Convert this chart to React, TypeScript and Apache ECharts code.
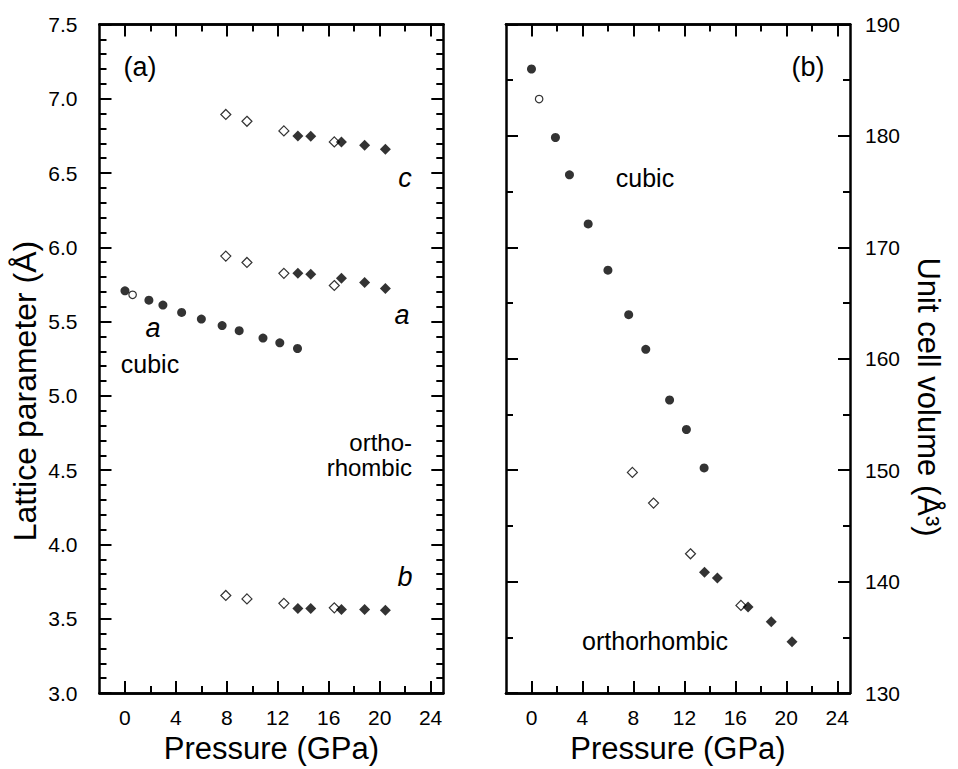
import React, { useEffect, useRef } from "react";
import * as echarts from "echarts";

// ---- data (pressure in GPa) ----
const cubicP = [0, 1.88, 2.98, 4.45, 6.0, 7.63, 8.97, 10.84, 12.16, 13.55];
const cubicA = [5.707, 5.644, 5.611, 5.562, 5.517, 5.473, 5.439, 5.389, 5.357, 5.319];
const cubicV = [186.0, 179.85, 176.5, 172.1, 167.95, 163.95, 160.85, 156.3, 153.65, 150.2];

const cubicOpenP = [0.6];
const cubicOpenA = [5.68];
const cubicOpenV = [183.3];

const orthoOpenP = [7.92, 9.58, 12.48, 16.44];
const orthoOpenA = [5.941, 5.898, 5.825, 5.743];
const orthoOpenB = [3.657, 3.634, 3.604, 3.574];
const orthoOpenC = [6.894, 6.848, 6.783, 6.709];
const orthoOpenV = [149.8, 147.05, 142.5, 137.87];

const orthoP = [13.58, 14.59, 17.0, 18.82, 20.45];
const orthoA = [5.825, 5.818, 5.791, 5.763, 5.723];
const orthoB = [3.57, 3.57, 3.563, 3.563, 3.557];
const orthoC = [6.749, 6.747, 6.709, 6.687, 6.66];
const orthoV = [140.84, 140.33, 137.72, 136.41, 134.6];

const pMajorTicks = [0, 4, 8, 12, 16, 20, 24];
const pMinorTicks = [2, 6, 10, 14, 18, 22];

const FONT = '"Liberation Sans", Arial, Helvetica, sans-serif';

const pairs = (xs: number[], ys: number[]) => xs.map((x, i) => [x, ys[i]]);

const lineStyle = { color: "#000", width: 2.5 };
const tickStyle = { color: "#000", width: 2 };

function xAxesFor(gridIndex: number) {
  const base = {
    type: "value" as const,
    gridIndex,
    min: -2,
    max: 25,
    splitLine: { show: false },
    axisLine: { show: true, onZero: false, lineStyle },
  };
  return [
    {
      ...base,
      position: "bottom",
      axisTick: { show: true, inside: true, length: 12, lineStyle: tickStyle, customValues: pMajorTicks },
      axisLabel: {
        show: true,
        customValues: pMajorTicks,
        margin: 14,
        fontSize: 21,
        color: "#000",
        fontFamily: FONT,
      },
      name: "Pressure (GPa)",
      nameLocation: "middle",
      nameGap: 39,
      nameTextStyle: { fontSize: 31, color: "#000", fontFamily: FONT },
    },
    {
      ...base,
      position: "bottom",
      axisTick: { show: true, inside: true, length: 7, lineStyle: tickStyle, customValues: pMinorTicks },
      axisLabel: { show: false },
    },
    {
      ...base,
      position: "top",
      axisTick: { show: true, inside: true, length: 12, lineStyle: tickStyle, customValues: pMajorTicks },
      axisLabel: { show: false },
    },
    {
      ...base,
      position: "top",
      axisTick: { show: true, inside: true, length: 7, lineStyle: tickStyle, customValues: pMinorTicks },
      axisLabel: { show: false },
    },
  ];
}

function yAxisFor(
  gridIndex: number,
  position: "left" | "right",
  min: number,
  max: number,
  interval: number,
  split: number,
  showLabel: boolean,
  margin: number,
  decimals: number
) {
  return {
    type: "value",
    gridIndex,
    position,
    min,
    max,
    interval,
    splitLine: { show: false },
    axisLine: { show: true, onZero: false, lineStyle },
    axisTick: { show: true, inside: true, length: 12, lineStyle: tickStyle },
    minorTick: { show: true, splitNumber: split, length: 7, lineStyle: tickStyle },
    minorSplitLine: { show: false },
    axisLabel: {
      show: showLabel,
      margin,
      fontSize: 21,
      color: "#000",
      fontFamily: FONT,
      formatter: (v: number) => v.toFixed(decimals),
    },
  };
}

const filledCircle = { symbol: "circle", symbolSize: 9, itemStyle: { color: "#000" } };
const openCircle = {
  symbol: "circle",
  symbolSize: 7.5,
  itemStyle: { color: "#fff", borderColor: "#000", borderWidth: 1.2 },
};
const filledDiamond = { symbol: "diamond", symbolSize: 11, itemStyle: { color: "#000" } };
const openDiamond = {
  symbol: "diamond",
  symbolSize: 10,
  itemStyle: { color: "#fff", borderColor: "#000", borderWidth: 1.2 },
};

function scatter(xi: number, yi: number, data: number[][], style: any) {
  return {
    type: "scatter",
    xAxisIndex: xi,
    yAxisIndex: yi,
    data,
    ...style,
    emphasis: { disabled: true },
    silent: true,
  };
}

function label(x: number, y: number, text: string, size: number, italic = false, align = "center", lineHeight?: number) {
  return {
    type: "text",
    x,
    y,
    silent: true,
    style: {
      text,
      fontSize: size,
      fontFamily: FONT,
      fontStyle: italic ? "italic" : "normal",
      fill: "#000",
      align,
      verticalAlign: "middle",
      ...(lineHeight ? { lineHeight } : {}),
    },
  };
}

export default function App() {
  const ref = useRef<HTMLDivElement>(null);

  useEffect(() => {
    if (!ref.current) return;
    const chart = echarts.init(ref.current, undefined, { renderer: "svg" });

    const option: any = {
      animation: false,
      backgroundColor: "#fff",
      grid: [
        { left: 99.5, top: 24.4, width: 343.8, height: 673.2, containLabel: false },
        { left: 506, top: 24.4, width: 344, height: 673.2, containLabel: false },
      ],
      xAxis: [...xAxesFor(0), ...xAxesFor(1)],
      yAxis: [
        yAxisFor(0, "left", 3, 7.5, 0.5, 5, true, 22, 1),
        yAxisFor(0, "right", 3, 7.5, 0.5, 5, false, 10, 1),
        yAxisFor(1, "left", 130, 190, 10, 2, false, 10, 0),
        yAxisFor(1, "right", 130, 190, 10, 2, true, 15, 0),
      ],
      series: [
        // panel (a)
        scatter(0, 0, pairs(cubicP, cubicA), filledCircle),
        scatter(0, 0, pairs(cubicOpenP, cubicOpenA), openCircle),
        scatter(0, 0, pairs(orthoOpenP, orthoOpenA), openDiamond),
        scatter(0, 0, pairs(orthoOpenP, orthoOpenB), openDiamond),
        scatter(0, 0, pairs(orthoOpenP, orthoOpenC), openDiamond),
        scatter(0, 0, pairs(orthoP, orthoA), filledDiamond),
        scatter(0, 0, pairs(orthoP, orthoB), filledDiamond),
        scatter(0, 0, pairs(orthoP, orthoC), filledDiamond),
        // panel (b)
        scatter(4, 2, pairs(cubicP, cubicV), filledCircle),
        scatter(4, 2, pairs(cubicOpenP, cubicOpenV), openCircle),
        scatter(4, 2, pairs(orthoOpenP, orthoOpenV), openDiamond),
        scatter(4, 2, pairs(orthoP, orthoV), filledDiamond),
      ],
      graphic: [
        label(140, 67, "(a)", 27),
        label(808, 67, "(b)", 27),
        label(405, 178, "c", 27, true),
        label(402, 315, "a", 27, true),
        label(153, 328, "a", 27, true),
        label(150, 364, "cubic", 25),
        label(412, 455, "ortho-\nrhombic", 24, false, "right", 24.5),
        label(405, 577, "b", 27, true),
        label(645, 178, "cubic", 25),
        label(655, 641, "orthorhombic", 25),
        {
          type: "text",
          x: 24.5,
          y: 391,
          rotation: Math.PI / 2,
          silent: true,
          style: {
            text: "Lattice parameter (Å)",
            fontSize: 32,
            fontFamily: FONT,
            fill: "#000",
            align: "center",
            verticalAlign: "middle",
          },
        },
        {
          type: "text",
          x: 928,
          y: 397,
          rotation: -Math.PI / 2,
          silent: true,
          style: {
            text: "Unit cell volume (Å³)",
            fontSize: 31,
            fontFamily: FONT,
            fill: "#000",
            align: "center",
            verticalAlign: "middle",
          },
        },
      ],
    };

    chart.setOption(option);
    return () => chart.dispose();
  }, []);

  return (
    <div
      ref={ref}
      style={{ position: "fixed", left: 0, top: 0, width: 958, height: 769, background: "#fff" }}
    />
  );
}
